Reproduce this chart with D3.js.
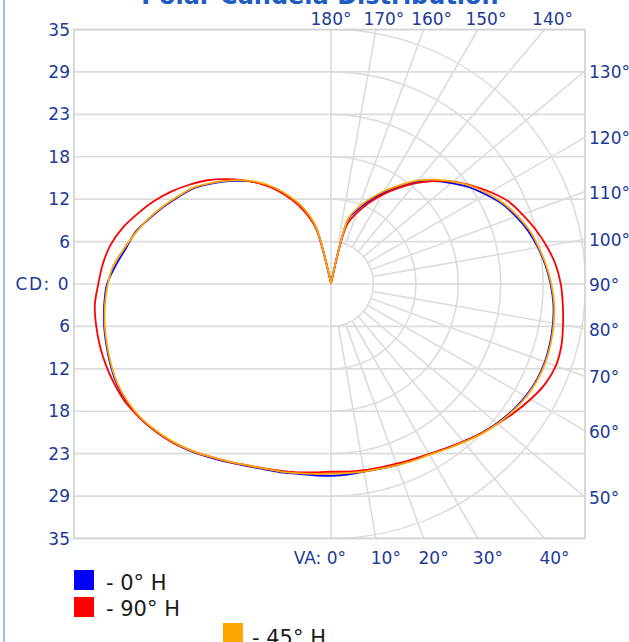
<!DOCTYPE html>
<html><head><meta charset="utf-8">
<script src="https://cdn.jsdelivr.net/npm/d3@7"></script>
<style>html,body{margin:0;padding:0;background:#fff;overflow:hidden}</style>
</head><body><div id="chart"></div>
<script>
// ---------- data ----------
const vaAngles = [0,5,10,15,20,25,30,35,40,45,50,55,60,65,70,75,80,85,90,95,100,105,110,115,120,125,130,135,140,145,150,155,160,165,170,175,180];
// right half (x > centre) and left half of each horizontal plane, candela
const blueRight = [26.4,26.3,26.2,26.3,26.5,26.7,27.0,27.6,28.3,29.1,29.8,30.4,30.9,31.2,31.3,31.2,31.0,30.7,30.2,29.6,28.9,28.1,27.1,26.0,24.6,23.2,21.6,20.0,18.3,16.3,14.5,12.7,11.0,9.2,0.6,0.2,0.1];
const blueLeft  = [26.4,26.4,26.5,26.8,27.1,27.6,28.3,29.1,30.0,30.8,31.5,32.1,32.4,32.5,32.3,32.0,31.7,31.3,30.8,29.7,28.6,27.8,26.5,25.3,24.1,23.0,21.5,20.0,18.5,16.9,15.1,13.1,11.0,8.1,0.5,0.2,0.1];
const redRight  = [25.8,25.9,26.0,26.1,26.3,26.6,27.0,27.6,28.3,29.1,29.9,30.8,31.7,32.5,32.9,32.8,32.4,32.0,31.6,31.0,30.1,29.1,28.0,26.9,25.3,23.6,21.9,20.0,18.1,16.1,14.2,12.3,10.4,8.4,0.5,0.2,0.1];
const redLeft   = [25.8,26.0,26.3,26.6,27.0,27.5,28.2,29.0,29.9,30.8,31.5,32.1,32.6,32.8,32.9,32.9,32.8,32.6,32.0,31.5,30.8,29.7,28.3,26.9,25.4,23.8,22.2,20.4,18.6,16.8,14.9,12.8,10.6,7.9,0.5,0.2,0.1];
const orangeRight = [26.1,26.1,26.2,26.3,26.5,26.8,27.1,27.7,28.4,29.2,29.9,30.5,31.0,31.3,31.4,31.3,31.1,30.8,30.3,29.7,29.0,28.3,27.3,26.2,24.9,23.5,21.9,20.3,18.6,16.6,14.8,13.0,11.3,9.4,0.8,0.3,0.1];
const orangeLeft  = [26.1,26.2,26.4,26.7,27.0,27.5,28.2,29.0,29.9,30.7,31.4,32.0,32.3,32.4,32.2,31.9,31.6,31.2,30.7,30.0,28.8,27.7,26.6,25.4,24.2,23.1,21.6,20.1,18.6,17.0,15.2,13.2,11.1,8.3,0.7,0.3,0.1];
const seriesNames = ["- 0° H","- 90° H","- 45° H"];
const seriesColors = ["#0000ff","#ff0000","#ffa500"];
const cdMax = 35;
const cdTickValues = [35,29.17,23.33,17.5,11.67,5.83,0,-5.83,-11.67,-17.5,-23.33,-29.17,-35];
const cdTickLabels = ["35","29","23","18","12","6","CD: 0","6","12","18","23","29","35"];
const gridVA = [10,20,30,40,50,60,70,80,90,100,110,120,130,140,150,160,170];
const vaLabelAngles = [180,170,160,150,140,130,120,110,100,90,80,70,60,50,40,30,20,10,0];
const vaLabels = ["180°","170°","160°","150°","140°","130°","120°","110°","100°","90°","80°","70°","60°","50°","40°","30°","20°","10°","VA: 0°"];
const titleText = "Polar Candela Distribution";

// ---------- layout ----------
const W = 629, H = 642;
const cx = 331, cy = 284, R = 254.5;
const box = {x0: 74, x1: 585, y0: cy - R, y1: cy + R};
const labelColor = "#1c3a96";
const gridColor = "#dcdcdc";
const fs = 17;

const svg = d3.select("#chart").append("svg").attr("width", W).attr("height", H)
  .style("font-family", "'DejaVu Sans', Verdana, sans-serif");
svg.append("rect").attr("width", W).attr("height", H).attr("fill", "#fff");

// left container border
svg.append("line").attr("x1", 4).attr("x2", 4).attr("y1", 0).attr("y2", H)
  .attr("stroke", "#a3bff0").attr("stroke-width", 2);

// title (mostly cut off above)
svg.append("text").attr("x", 320).attr("y", 4).attr("text-anchor", "middle")
  .attr("font-weight", "bold").attr("font-size", 24).attr("fill", "#1e5cc4").text(titleText);

const r = d3.scaleLinear().domain([0, cdMax]).range([0, R]);
const yCd = d3.scaleLinear().domain([-cdMax, cdMax]).range([cy + R, cy - R]);
const rad = d => d * Math.PI / 180;

svg.append("defs").append("clipPath").attr("id", "boxclip").append("rect")
  .attr("x", box.x0).attr("y", box.y0).attr("width", box.x1 - box.x0).attr("height", box.y1 - box.y0);
const grid = svg.append("g").attr("clip-path", "url(#boxclip)")
  .attr("fill", "none").attr("stroke", gridColor).attr("stroke-width", 1.6);

// horizontal grid lines
grid.selectAll("line.h").data(cdTickValues).join("line")
  .attr("x1", box.x0).attr("x2", box.x1).attr("y1", d => yCd(d)).attr("y2", d => yCd(d));
// vertical line
grid.append("line").attr("x1", cx).attr("x2", cx).attr("y1", box.y0).attr("y2", box.y1);
// half circles on the right
const ringVals = cdTickValues.filter(v => v > 0);
const arc = d3.arc().startAngle(0).endAngle(Math.PI);
grid.selectAll("path.ring").data(ringVals).join("path")
  .attr("transform", `translate(${cx},${cy})`)
  .attr("d", v => arc({innerRadius: r(v), outerRadius: r(v)}));

// box hit for an angle on the right half
function hit(va) {
  const s = Math.sin(rad(va)), c = Math.cos(rad(va));
  let t = Infinity, side = "";
  if (s > 1e-9) { const tt = (box.x1 - cx) / s; if (tt < t) { t = tt; side = "right"; } }
  if (c > 1e-9) { const tt = (box.y1 - cy) / c; if (tt < t) { t = tt; side = "bottom"; } }
  if (c < -1e-9) { const tt = (box.y0 - cy) / c; if (tt < t) { t = tt; side = "top"; } }
  return {x: cx + t * s, y: cy + t * c, side};
}
// radial lines
grid.selectAll("line.rad").data(gridVA).join("line")
  .attr("x1", d => cx + r(cdMax / 6) * Math.sin(rad(d)))
  .attr("y1", d => cy + r(cdMax / 6) * Math.cos(rad(d)))
  .attr("x2", d => hit(d).x).attr("y2", d => hit(d).y);

// box border
svg.append("rect").attr("x", box.x0).attr("y", box.y0).attr("width", box.x1 - box.x0)
  .attr("height", box.y1 - box.y0).attr("fill", "none").attr("stroke", "#d0d0d0").attr("stroke-width", 1.6);

// left CD labels
svg.append("g").selectAll("text").data(cdTickValues).join("text")
  .attr("x", 70).attr("y", d => yCd(d) + 6).attr("text-anchor", "end")
  .attr("letter-spacing", (d, i) => cdTickLabels[i].length > 2 ? 1.5 : 0)
  .attr("font-size", fs).attr("fill", labelColor).text((d, i) => cdTickLabels[i]);

// angle labels
svg.append("g").selectAll("text").data(vaLabelAngles).join("text")
  .each(function (a, i) {
    const h = hit(a), t = d3.select(this);
    t.attr("font-size", fs).attr("fill", labelColor).text(vaLabels[i]);
    if (a === 0) { t.attr("x", cx + 15).attr("y", 564).attr("text-anchor", "end"); }
    else if (h.side === "top") { t.attr("x", h.x + (a === 180 ? 0 : 8)).attr("y", 25).attr("text-anchor", "middle"); }
    else if (h.side === "bottom") { t.attr("x", h.x + 10).attr("y", 564).attr("text-anchor", "middle"); }
    else { t.attr("x", 589).attr("y", h.y + 7).attr("text-anchor", "start"); }
  });

// curves
const seriesData = [[blueRight, blueLeft], [redRight, redLeft], [orangeRight, orangeLeft]];
const line = d3.lineRadial().angle(d => d.a).radius(d => r(d.v)).curve(d3.curveCatmullRom.alpha(0.5));
seriesData.forEach(([right, left], i) => {
  const pts = [];
  vaAngles.forEach((va, k) => pts.push({a: Math.PI - rad(va), v: right[k]}));
  for (let k = vaAngles.length - 2; k >= 0; k--) pts.push({a: Math.PI + rad(vaAngles[k]), v: left[k]});
  svg.append("path").attr("transform", `translate(${cx},${cy})`)
    .attr("d", line(pts)).attr("fill", "none").attr("stroke", seriesColors[i])
    .attr("stroke-width", 1.8).attr("stroke-linejoin", "round");
});

// legend
const legendPos = [{x: 74, y: 570, tx: 106, ty: 590}, {x: 74, y: 597, tx: 106, ty: 616}, {x: 223, y: 623, tx: 252, ty: 645}];
const lg = svg.append("g");
seriesNames.forEach((n, i) => {
  const p = legendPos[i];
  lg.append("rect").attr("x", p.x).attr("y", p.y).attr("width", 20).attr("height", 20).attr("fill", seriesColors[i]);
  lg.append("text").attr("x", p.tx).attr("y", p.ty).attr("font-size", 21).attr("fill", "#1a1a1a").text(n);
});
</script></body></html>
